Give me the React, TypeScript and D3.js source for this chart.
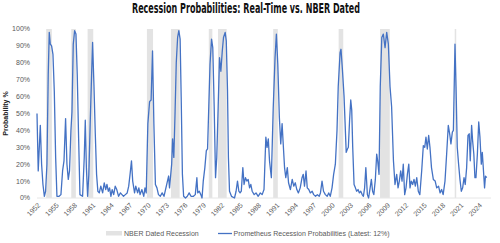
import React, { useEffect, useRef } from 'react';
import * as d3 from 'd3';

// NBER recession windows, first and last month
const recessions: [string, string][] = [
  ['1953-07', '1954-05'],
  ['1957-08', '1958-04'],
  ['1960-04', '1961-02'],
  ['1969-12', '1970-11'],
  ['1973-11', '1975-03'],
  ['1980-01', '1980-07'],
  ['1981-07', '1982-11'],
  ['1990-07', '1991-03'],
  ['2001-03', '2001-11'],
  ['2007-12', '2009-06'],
  ['2020-02', '2020-04'],
];

// [decimal year, probability %]
const probability: [number, number][] = [
  [1952.0, 50], [1952.2, 16], [1952.54, 43], [1952.75, 20], [1952.97, 8],
  [1953.2, 1], [1953.4, 4], [1953.62, 20], [1953.83, 73], [1954.0, 98],
  [1954.17, 91], [1954.38, 90], [1954.6, 85], [1954.82, 63], [1955.04, 24],
  [1955.25, 1], [1955.6, 1], [1955.9, 2], [1956.17, 16], [1956.4, 22],
  [1956.66, 47], [1956.88, 20], [1957.1, 11], [1957.3, 16], [1957.53, 40],
  [1957.7, 51], [1957.91, 91], [1958.13, 99], [1958.35, 97], [1958.56, 73],
  [1958.78, 36], [1959.0, 2], [1959.43, 1], [1959.7, 24], [1959.87, 46],
  [1960.05, 18], [1960.25, 1], [1960.45, 14], [1960.67, 44], [1960.9, 73],
  [1961.06, 92], [1961.28, 67], [1961.5, 38], [1961.71, 14], [1961.92, 4],
  [1962.15, 3], [1962.4, 7], [1962.7, 3], [1962.96, 9], [1963.2, 5],
  [1963.4, 8], [1963.62, 4], [1963.83, 6], [1964.05, 1], [1964.25, 5],
  [1964.5, 2], [1964.75, 7], [1965.0, 5], [1965.3, 1], [1965.6, 3],
  [1965.85, 2], [1966.1, 1], [1966.4, 2], [1966.7, 3], [1966.95, 7],
  [1967.2, 15], [1967.4, 22], [1967.6, 10], [1967.9, 3], [1968.1, 7],
  [1968.4, 3], [1968.6, 6], [1968.8, 2], [1969.1, 5], [1969.4, 1],
  [1969.6, 6], [1969.8, 3], [1970.07, 44], [1970.35, 57], [1970.6, 58],
  [1970.83, 87], [1971.05, 44], [1971.3, 8], [1971.55, 6], [1971.8, 2],
  [1972.1, 1], [1972.4, 3], [1972.7, 1], [1972.95, 5], [1973.2, 9],
  [1973.45, 13], [1973.6, 6], [1973.8, 14], [1973.95, 20], [1974.1, 35],
  [1974.3, 24], [1974.5, 50], [1974.7, 80], [1974.92, 95], [1975.12, 99],
  [1975.33, 94], [1975.5, 60], [1975.7, 14], [1975.9, 1], [1976.2, 0],
  [1976.5, 1], [1976.8, 3], [1977.1, 1], [1977.5, 1], [1977.8, 2],
  [1978.06, 12], [1978.2, 3], [1978.45, 4], [1978.7, 2], [1978.9, 0],
  [1979.1, 10], [1979.36, 18], [1979.6, 28], [1979.8, 29], [1980.0, 54],
  [1980.2, 79], [1980.45, 94], [1980.65, 89], [1980.88, 54], [1981.1, 12],
  [1981.3, 24], [1981.53, 54], [1981.75, 83], [1981.97, 75], [1982.2, 87],
  [1982.4, 95], [1982.67, 98], [1982.85, 93], [1983.05, 64], [1983.2, 24],
  [1983.38, 4], [1983.7, 1], [1984.19, 0], [1984.45, 4], [1984.68, 10],
  [1984.9, 4], [1985.1, 3], [1985.3, 4], [1985.55, 18], [1985.75, 8],
  [1985.98, 12], [1986.2, 10], [1986.42, 11], [1986.65, 6], [1986.85, 8],
  [1987.07, 4], [1987.4, 2], [1987.7, 3], [1988.05, 1], [1988.4, 3],
  [1988.7, 2], [1989.0, 5], [1989.3, 36], [1989.5, 30], [1989.7, 35],
  [1989.9, 22], [1990.2, 12], [1990.5, 53], [1990.8, 83], [1991.02, 97],
  [1991.25, 79], [1991.5, 48], [1991.73, 32], [1991.95, 44], [1992.1, 34],
  [1992.35, 18], [1992.55, 12], [1992.8, 18], [1993.0, 9], [1993.3, 5],
  [1993.6, 11], [1993.85, 7], [1994.1, 9], [1994.35, 5], [1994.6, 3],
  [1994.9, 6], [1995.2, 12], [1995.4, 14], [1995.6, 7], [1995.85, 16],
  [1996.05, 6], [1996.3, 5], [1996.55, 3], [1996.85, 4], [1997.1, 2],
  [1997.4, 1], [1997.7, 2], [1998.0, 1], [1998.2, 3], [1998.46, 10],
  [1998.7, 4], [1999.0, 2], [1999.3, 1], [1999.55, 3], [1999.8, 1],
  [2000.09, 6], [2000.35, 14], [2000.63, 20], [2000.9, 40], [2001.1, 66],
  [2001.4, 86], [2001.55, 88], [2001.78, 76], [2002.05, 60], [2002.2, 46],
  [2002.4, 27], [2002.6, 29], [2002.75, 30], [2002.95, 46], [2003.14, 58],
  [2003.3, 52], [2003.46, 30], [2003.68, 8], [2003.9, 6], [2004.1, 4],
  [2004.33, 5], [2004.55, 3], [2004.77, 4], [2005.0, 2], [2005.2, 1],
  [2005.4, 6], [2005.6, 18], [2005.85, 2], [2006.05, 0], [2006.3, 6],
  [2006.5, 11], [2006.7, 4], [2006.9, 2], [2007.15, 11], [2007.37, 26],
  [2007.53, 22], [2007.75, 14], [2007.95, 66], [2008.2, 95], [2008.45, 97],
  [2008.73, 89], [2009.0, 98], [2009.27, 91], [2009.54, 66], [2009.8, 54],
  [2010.1, 22], [2010.35, 8], [2010.63, 14], [2010.85, 6], [2011.06, 10],
  [2011.28, 16], [2011.5, 10], [2011.7, 20], [2011.93, 2], [2012.15, 6],
  [2012.37, 14], [2012.6, 20], [2012.8, 6], [2013.0, 10], [2013.23, 8],
  [2013.45, 11], [2013.67, 7], [2013.9, 12], [2014.15, 4], [2014.4, 2],
  [2014.7, 16], [2014.97, 31], [2015.2, 30], [2015.4, 36], [2015.62, 29],
  [2015.84, 37], [2016.05, 30], [2016.3, 18], [2016.6, 11], [2016.9, 10],
  [2017.15, 6], [2017.45, 7], [2017.7, 3], [2017.95, 5], [2018.2, 2],
  [2018.5, 10], [2018.77, 26], [2019.04, 43], [2019.3, 37], [2019.47, 32],
  [2019.7, 39], [2019.87, 40], [2020.13, 91], [2020.3, 66], [2020.5, 30],
  [2020.72, 20], [2020.94, 11], [2021.16, 4], [2021.38, 6], [2021.6, 12],
  [2021.8, 8], [2022.03, 18], [2022.25, 37], [2022.45, 38], [2022.62, 22],
  [2022.84, 43], [2023.0, 34], [2023.2, 26], [2023.38, 12], [2023.55, 12],
  [2023.78, 26], [2024.0, 45], [2024.2, 36], [2024.42, 20], [2024.58, 27],
  [2024.74, 18], [2024.95, 6], [2025.1, 13], [2025.3, 12],
];

const yearTicks = [
  1952, 1955, 1958, 1961, 1964, 1967, 1970, 1973, 1976, 1979, 1982, 1985,
  1988, 1991, 1994, 1997, 2000, 2003, 2006, 2009, 2012, 2015, 2018, 2021, 2024,
];
const pctTicks = [0, 10, 20, 30, 40, 50, 60, 70, 80, 90, 100];

const title = 'Recession Probabilities: Real-Time vs. NBER Dated';
const recessionLabel = 'NBER Dated Recession';
const seriesLabel = 'Prometheus Recession Probabilities (Latest: 12%)';

const W = 500;
const H = 243;
const BLUE = '#4472c4';
const BAND = '#e3e3e3';
const GREY_TEXT = '#595959';
const FONT = "'Liberation Sans', Arial, sans-serif";

const monthToYear = (s: string) => {
  const [y, m] = s.split('-').map(Number);
  return y + (m - 1) / 12;
};

export default function App() {
  const svgRef = useRef<SVGSVGElement>(null);

  useEffect(() => {
    const svg = d3.select(svgRef.current);
    svg.selectAll('*').remove();

    const margin = { top: 29, right: 9, bottom: 45, left: 37 };
    const x = d3
      .scaleLinear()
      .domain([1952, 2026])
      .range([margin.left, W - margin.right]);
    const y = d3
      .scaleLinear()
      .domain([0, 100])
      .range([H - margin.bottom, margin.top]);

    svg.append('rect').attr('width', W).attr('height', H).attr('fill', '#fff');

    // recession shading
    svg
      .append('g')
      .selectAll('rect')
      .data(recessions)
      .join('rect')
      .attr('x', (d) => x(monthToYear(d[0])))
      .attr('width', (d) => x(monthToYear(d[1]) + 1 / 12) - x(monthToYear(d[0])))
      .attr('y', y(100))
      .attr('height', y(0) - y(100))
      .attr('fill', BAND);

    // baseline
    svg
      .append('line')
      .attr('x1', x(1952))
      .attr('x2', x(2026))
      .attr('y1', y(0))
      .attr('y2', y(0))
      .attr('stroke', '#e6e6e6')
      .attr('stroke-width', 1);

    const line = d3
      .line<[number, number]>()
      .x((d) => x(d[0]))
      .y((d) => y(d[1]));

    svg
      .append('path')
      .datum(probability)
      .attr('d', line)
      .attr('fill', 'none')
      .attr('stroke', BLUE)
      .attr('stroke-width', 1.3)
      .attr('stroke-linejoin', 'round');

    // y axis labels
    svg
      .append('g')
      .selectAll('text')
      .data(pctTicks)
      .join('text')
      .attr('x', 30)
      .attr('y', (d) => y(d))
      .attr('dy', '0.35em')
      .attr('text-anchor', 'end')
      .attr('fill', GREY_TEXT)
      .style('font-family', FONT)
      .style('font-size', '7px')
      .text((d) => `${d}%`);

    // x axis labels, slanted
    svg
      .append('g')
      .selectAll('text')
      .data(yearTicks)
      .join('text')
      .attr('transform', (d) => `translate(${x(d) + 2},${y(0) + 6}) rotate(-45)`)
      .attr('text-anchor', 'end')
      .attr('dy', '0.35em')
      .attr('fill', GREY_TEXT)
      .style('font-family', FONT)
      .style('font-size', '7px')
      .text((d) => d);

    svg
      .append('text')
      .attr('transform', `translate(8,${(y(0) + y(100)) / 2}) rotate(-90)`)
      .attr('text-anchor', 'middle')
      .attr('fill', '#222')
      .style('font-family', FONT)
      .style('font-weight', 'bold')
      .style('font-size', '7px')
      .text('Probability %');

    svg
      .append('text')
      .attr('x', 246)
      .attr('y', 13)
      .attr('text-anchor', 'middle')
      .attr('textLength', 228)
      .attr('lengthAdjust', 'spacingAndGlyphs')
      .attr('fill', '#111')
      .style('font-family', "'DejaVu Sans Condensed', 'Liberation Sans Narrow', 'Roboto', sans-serif")
      .style('font-weight', 'bold')
      .style('font-size', '14px')
      .text(title);

    // legend
    const lg = svg.append('g');
    lg.append('rect')
      .attr('x', 106)
      .attr('y', 231)
      .attr('width', 16)
      .attr('height', 4.5)
      .attr('fill', BAND);
    lg.append('text')
      .attr('x', 124)
      .attr('y', 233.5)
      .attr('dy', '0.35em')
      .attr('fill', GREY_TEXT)
      .style('font-family', FONT)
      .style('font-size', '7px')
      .text(recessionLabel);
    lg.append('line')
      .attr('x1', 218)
      .attr('x2', 232)
      .attr('y1', 233.5)
      .attr('y2', 233.5)
      .attr('stroke', BLUE)
      .attr('stroke-width', 1.3);
    lg.append('text')
      .attr('x', 233.5)
      .attr('y', 233.5)
      .attr('dy', '0.35em')
      .attr('fill', GREY_TEXT)
      .style('font-family', FONT)
      .style('font-size', '7px')
      .text(seriesLabel);
  }, []);

  return (
    <svg
      ref={svgRef}
      width={W}
      height={H}
      style={{ position: 'absolute', left: 0, top: 0, display: 'block' }}
    />
  );
}
